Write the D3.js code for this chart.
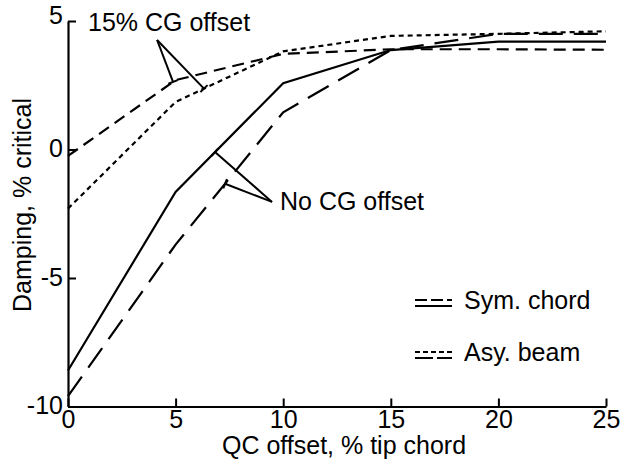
<!DOCTYPE html>
<html>
<head>
<meta charset="utf-8">
<script src="https://cdn.jsdelivr.net/npm/d3@7"></script>
<style>
  html, body { margin: 0; padding: 0; background: #fff; }
  svg { display: block; font-family: "Liberation Sans", Arial, Helvetica, sans-serif; }
</style>
</head>
<body>
<svg id="chart" width="624" height="464"></svg>
<script>
// ---- data ----
const qcOffset = [0, 5, 10, 15, 20, 25];
const symChordNoCG = [-8.6, -1.65, 2.58, 3.87, 4.2, 4.2];
const asyBeamNoCG  = [-9.6, -3.7, 1.45, 3.87, 4.5, 4.5];
const symChord15CG = [-0.25, 2.7, 3.72, 3.9, 3.9, 3.88];
const asyBeam15CG  = [-2.3, 1.85, 3.82, 4.42, 4.5, 4.6];
const xTicks = [0, 5, 10, 15, 20, 25];
const yTicks = [5, 0, -5, -10];

const svg = d3.select("#chart");
const x = d3.scaleLinear().domain([0, 25]).range([68, 606]);
const y = d3.scaleLinear().domain([-10, 5]).range([406.5, 21]);
const FS = 25;

// axes
const gx = svg.append("g").attr("transform", `translate(0,${y(-10)})`)
  .call(d3.axisBottom(x).tickValues(xTicks).tickFormat(d => String(d))
    .tickSize(-8).tickSizeOuter(0).tickPadding(4));
const gy = svg.append("g").attr("transform", `translate(${x(0)},0)`)
  .call(d3.axisLeft(y).tickValues(yTicks).tickFormat(d => String(d))
    .tickSize(-8).tickSizeOuter(0).tickPadding(5));
[gx, gy].forEach(g => {
  g.selectAll("path.domain").attr("stroke", "#000").attr("stroke-width", 2.2);
  g.selectAll(".tick line").attr("stroke", "#000").attr("stroke-width", 2);
  g.selectAll(".tick text").attr("fill", "#000").style("font-size", FS + "px")
    .style("font-family", '"Liberation Sans", Arial, sans-serif');
});
gy.selectAll(".tick text").attr("dy", d => d === 5 ? "0.1em" : "0.28em");

// axis titles
svg.append("text").attr("x", 344).attr("y", 454).attr("text-anchor", "middle")
  .style("font-size", FS + "px").text("QC offset, % tip chord");
svg.append("text").attr("transform", "translate(31,205) rotate(-90)")
  .attr("text-anchor", "middle").style("font-size", FS + "px").text("Damping, % critical");

// series
const series = [
  { vals: symChordNoCG, dash: null },
  { vals: asyBeamNoCG, dash: "24,11" },
  { vals: symChord15CG, dash: "12,7" },
  { vals: asyBeam15CG, dash: "5,4" }
];
const line = d3.line().x(d => x(d[0])).y(d => y(d[1]));
series.forEach(s => {
  const pts = qcOffset.map((q, i) => [q, s.vals[i]]);
  svg.append("path").datum(pts).attr("d", line).attr("fill", "none")
    .attr("stroke", "#000").attr("stroke-width", 2.2)
    .attr("stroke-dasharray", s.dash);
});

// annotations
function onLine(vals, xv) {
  const i = Math.min(Math.floor(xv / 5), 4);
  const t = (xv - qcOffset[i]) / 5;
  return [x(xv), y(vals[i] + t * (vals[i + 1] - vals[i]))];
}
function pointer(from, tip) {
  svg.append("line").attr("x1", from[0]).attr("y1", from[1]).attr("x2", tip[0]).attr("y2", tip[1])
    .attr("stroke", "#000").attr("stroke-width", 2);
  const dx = tip[0] - from[0], dy = tip[1] - from[1], L = Math.hypot(dx, dy);
  const px = -dy / L * 5, py = dx / L * 5;
  svg.append("line").attr("x1", tip[0] - px).attr("y1", tip[1] - py)
    .attr("x2", tip[0] + px).attr("y2", tip[1] + py)
    .attr("stroke", "#000").attr("stroke-width", 2);
}
const o1 = [x(4.14), y(4.26)];
pointer(o1, onLine(symChord15CG, 4.88));
pointer(o1, onLine(asyBeam15CG, 6.32));
svg.append("text").attr("x", 88).attr("y", 31).style("font-size", FS + "px").text("15% CG offset");

const o2 = [x(9.48), y(-2.04)];
pointer(o2, onLine(symChordNoCG, 6.83));
pointer(o2, onLine(asyBeamNoCG, 7.3));
svg.append("text").attr("x", 280).attr("y", 210).style("font-size", FS + "px").text("No CG offset");

// legend
const legend = [
  { label: "Sym. chord", top: "12,4", bottom: null, yc: 300 },
  { label: "Asy. beam", top: "5,3", bottom: "18,4", yc: 352 }
];
legend.forEach(l => {
  svg.append("line").attr("x1", 415).attr("x2", 452).attr("y1", l.yc).attr("y2", l.yc)
    .attr("stroke", "#000").attr("stroke-width", 2).attr("stroke-dasharray", l.top);
  svg.append("line").attr("x1", 415).attr("x2", 452).attr("y1", l.yc + 6).attr("y2", l.yc + 6)
    .attr("stroke", "#000").attr("stroke-width", 2).attr("stroke-dasharray", l.bottom);
  svg.append("text").attr("x", 464).attr("y", l.yc + 9).style("font-size", FS + "px").text(l.label);
});
</script>
</body>
</html>
